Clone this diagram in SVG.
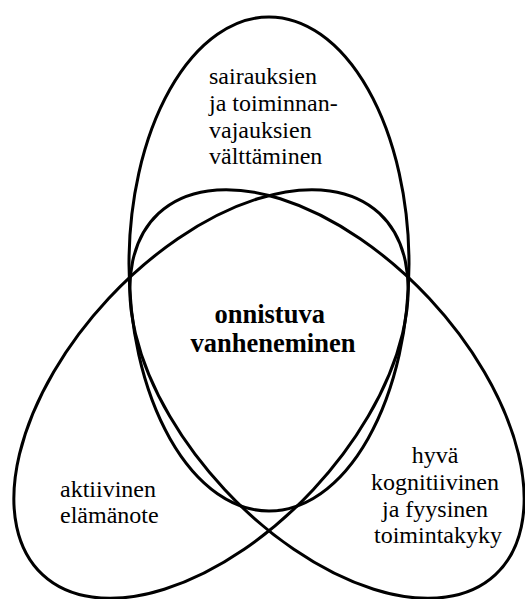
<svg xmlns="http://www.w3.org/2000/svg" width="525" height="599" viewBox="0 0 525 599">
  <style>
    .shape { fill: none; stroke: #000; stroke-width: 3; }
    .lbl { font-size: 24px; fill: #000; }
    .ctr { font-size: 26.5px; font-weight: bold; fill: #000; text-anchor: middle; }
  </style>
  <rect width="525" height="599" fill="#fff"/>
  <g id="top-node">
    <ellipse class="shape" cx="269" cy="264" rx="140" ry="247"/>
    <text class="lbl" font-family="Liberation Serif, serif">
      <tspan x="209" y="84">sairauksien</tspan>
      <tspan x="209" y="111">ja toiminnan-</tspan>
      <tspan x="209" y="138">vajauksien</tspan>
      <tspan x="209" y="164">välttäminen</tspan>
    </text>
  </g>
  <g id="left-node">
    <ellipse class="shape" cx="0" cy="0" rx="247" ry="140" transform="translate(211,394) rotate(-47)"/>
    <text class="lbl" font-family="Liberation Serif, serif">
      <tspan x="60" y="497">aktiivinen</tspan>
      <tspan x="60" y="523">elämänote</tspan>
    </text>
  </g>
  <g id="right-node">
    <ellipse class="shape" cx="0" cy="0" rx="247" ry="140" transform="translate(327,394) rotate(47)"/>
    <text class="lbl" font-family="Liberation Serif, serif" text-anchor="middle">
      <tspan x="438" y="463">hyvä</tspan>
      <tspan x="438" y="490">kognitiivinen</tspan>
      <tspan x="438" y="517">ja fyysinen</tspan>
      <tspan x="438" y="543">toimintakyky</tspan>
    </text>
  </g>
  <g id="center-node">
    <text class="ctr" font-family="Liberation Serif, serif">
      <tspan x="273" y="323">onnistuva</tspan>
      <tspan x="273" y="352">vanheneminen</tspan>
    </text>
  </g>
</svg>
